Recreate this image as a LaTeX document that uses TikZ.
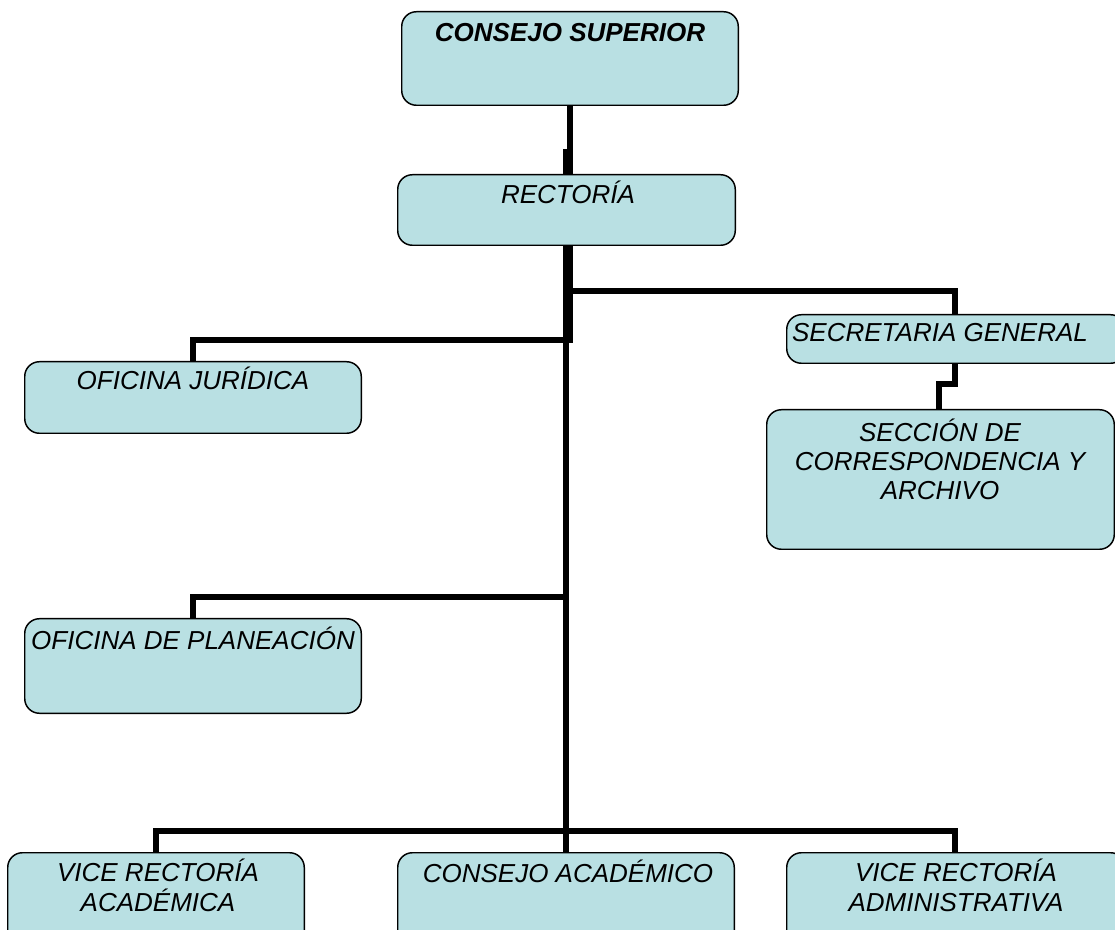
\documentclass[tikz,border=0pt]{standalone}
\usepackage{fontspec}
\setmainfont{Liberation Sans}
\usetikzlibrary{fit}
\definecolor{boxfill}{RGB}{185,224,227}
\begin{document}
\begin{tikzpicture}[x=0.75pt,y=-0.75pt,
  box/.style={inner sep=0pt},
  boxdraw/.style={draw=black, line width=1.1pt, fill=boxfill, rounded corners=11pt},
  lbl/.style={anchor=base, font=\fontsize{19.5}{22}\selectfont\itshape, align=center, inner sep=0pt},
  conn/.style={draw=black, line width=4.3pt, line join=miter}]
\useasboundingbox (0,0) rectangle (1115,930);
\clip (0,0) rectangle (1115,930);
% boxes (geometry)
\node[box, fit={(402,12) (738,105)}] (cs) {};
\node[box, fit={(398,175) (735,245)}] (rect) {};
\node[box, fit={(787,315) (1125,363)}] (sec) {};
\node[box, fit={(25,362) (361,433)}] (jur) {};
\node[box, fit={(767,410) (1114,549)}] (sca) {};
\node[box, fit={(25,619) (361,713)}] (plan) {};
\node[box, fit={(8,853) (304,945)}] (vra) {};
\node[box, fit={(398,853) (734,945)}] (ca) {};
\node[box, fit={(787,853) (1125,945)}] (vradm) {};
% helper coordinates
\coordinate (xa) at (570,0);
\coordinate (xb) at (566,0);
\coordinate (xj) at (193,0);
\coordinate (xs) at (955,0);
\coordinate (xs2) at (939,0);
\coordinate (xv) at (156,0);
\coordinate (yj) at (0,149);
\coordinate (hs) at (0,291);
\coordinate (hj) at (0,340);
\coordinate (hc) at (0,384);
\coordinate (hp) at (0,597);
\coordinate (hb) at (0,831);
% connectors
\draw[conn] (cs.south -| xa) -- (rect.north -| xa);
\draw[conn] (xb |- yj) -- (rect.north -| xb);
\draw[conn] (rect.south -| xa) |- (xs |- hs) -- (sec.north -| xs);
\draw[conn] (rect.south -| xa) |- (xj |- hj) -- (jur.north -| xj);
\draw[conn] (rect.south -| xb) -- (ca.north -| xb);
\draw[conn] (xb |- hp) -| (plan.north -| xj);
\draw[conn] (vra.north -| xv) |- (xs |- hb) -- (vradm.north -| xs);
\draw[conn] (sec.south -| xs) |- (xs2 |- hc) -- (sca.north -| xs2);
% boxes drawn on top of connector ends
\foreach \b in {cs,rect,sec,jur,sca,plan,vra,ca,vradm}{
  \draw[boxdraw] (\b.north west) rectangle (\b.south east);
}
% labels
\node[lbl, font=\fontsize{19.5}{22}\selectfont\bfseries\itshape] (cs-t) at (570,42) {CONSEJO SUPERIOR};
\node[lbl] (rect-t) at (568,204) {RECTORÍA};
\node[lbl] (sec-t) at (940,342) {SECRETARIA GENERAL};
\node[lbl] (jur-t) at (193,390) {OFICINA JURÍDICA};
\node[lbl] (sca-t) at (940,500) {SECCIÓN DE\\CORRESPONDENCIA Y\\ARCHIVO};
\node[lbl] (plan-t) at (193,649) {OFICINA DE PLANEACIÓN};
\node[lbl] (vra-t) at (158,911) {VICE RECTORÍA\\ACADÉMICA};
\node[lbl] (ca-t) at (568,882) {CONSEJO ACADÉMICO};
\node[lbl] (vradm-t) at (956,911) {VICE RECTORÍA\\ADMINISTRATIVA};
\end{tikzpicture}
\end{document}
